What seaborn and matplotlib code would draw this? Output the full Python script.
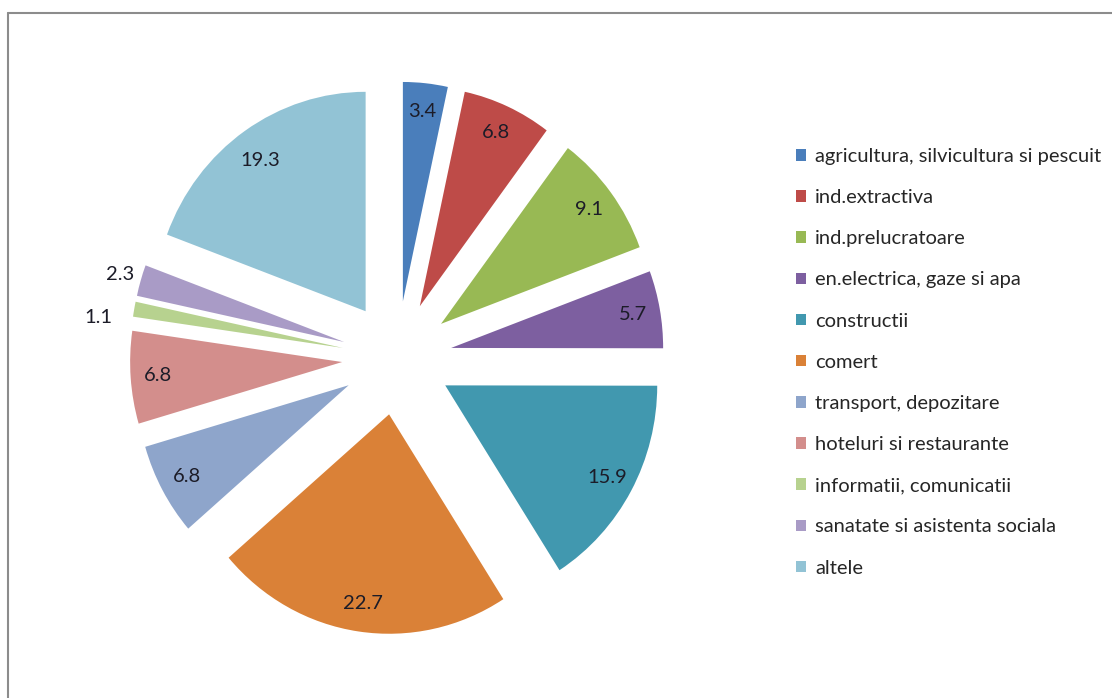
import numpy as np
import matplotlib
matplotlib.use("Agg")
import matplotlib.pyplot as plt
from matplotlib.lines import Line2D
import seaborn as sns

sns.set_theme(style="white")
plt.rcParams['font.family'] = ['Lato', 'DejaVu Sans']

categories = ['agricultura, silvicultura si pescuit', 'ind.extractiva',
              'ind.prelucratoare', 'en.electrica, gaze si apa', 'constructii',
              'comert', 'transport, depozitare', 'hoteluri si restaurante',
              'informatii, comunicatii', 'sanatate si asistenta sociala', 'altele']
values = [3.4, 6.8, 9.1, 5.7, 15.9, 22.7, 6.8, 6.8, 1.1, 2.3, 19.3]
colors = ['#4A7EBB', '#BE4B48', '#98B954', '#7D5FA0', '#4198AF', '#DA8137',
          '#8EA5CB', '#D38E8C', '#B7D28F', '#A99BC6', '#92C3D5']

W, H = 1112, 698
sy = 1.035  # the original chart is slightly stretched vertically
fig = plt.figure(figsize=(W / 100, H / 100), dpi=100)
ax = fig.add_axes([0, 0, 1, 1])

radius = 212
total = sum(values)
wedges, texts, autotexts = ax.pie(
    values, colors=colors, startangle=90, counterclock=False,
    radius=radius, center=(397, (H - 358) / sy), explode=[55] * len(values),
    autopct=lambda p: f"{p * total / 100:.1f}", pctdistance=0.87,
    wedgeprops=dict(linewidth=0), textprops=dict(fontsize=14.5, color='#1c1c28'))

# small slices get their labels outside
outside = {8: 1.17, 9: 1.1}
for i, dist in outside.items():
    w = wedges[i]
    th = np.deg2rad((w.theta1 + w.theta2) / 2)
    cx, cy = w.center
    shift = -14 if i == 8 else 0
    autotexts[i].set_position((cx + radius * dist * np.cos(th),
                               cy + radius * dist * np.sin(th) + shift))
autotexts[-1].set_position((autotexts[-1].get_position()[0],
                            autotexts[-1].get_position()[1] - 6))

ax.set_xlim(0, W)
ax.set_ylim(0, H / sy)
ax.set_aspect('auto')
ax.axis('off')

ax.legend(wedges, categories, loc='upper left', bbox_to_anchor=(796 / W, 1 - 148 / H),
          bbox_transform=fig.transFigure, frameon=False, fontsize=14.5,
          labelspacing=1.2, handlelength=0.5, handleheight=0.5,
          handletextpad=0.45, borderpad=0, borderaxespad=0)

# chart area border (top and left edges)
fig.add_artist(Line2D([8 / W, 1], [1 - 13 / H, 1 - 13 / H], transform=fig.transFigure,
                      color='#8c8c8c', lw=1.5))
fig.add_artist(Line2D([8 / W, 8 / W], [0, 1 - 13 / H], transform=fig.transFigure,
                      color='#8c8c8c', lw=1.5))

fig.savefig('out.png', dpi=100)
